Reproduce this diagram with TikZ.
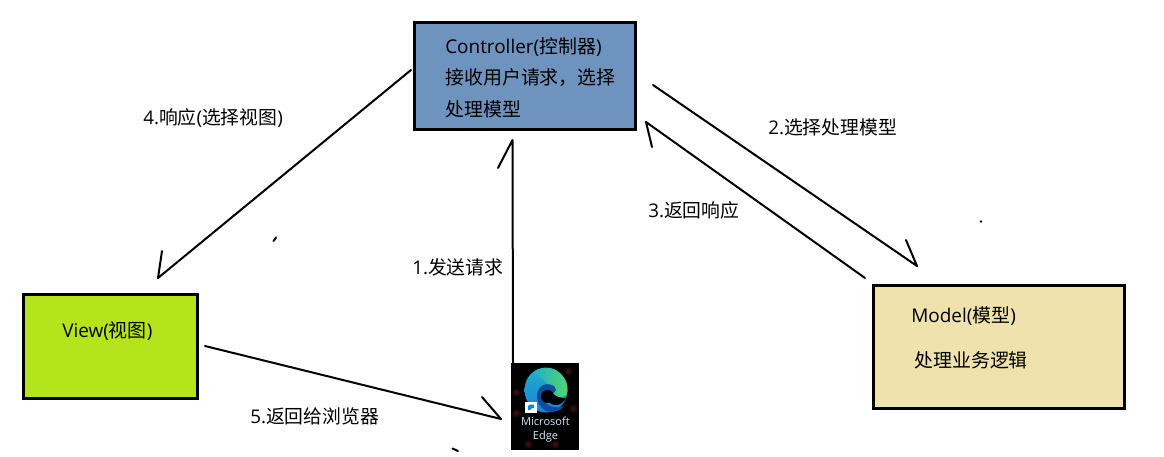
\documentclass[tikz,border=0pt]{standalone}
\usepackage{fontspec}
\setmainfont{Open Sans}
\newfontfamily\cjk{Noto Sans CJK SC}
\usetikzlibrary{positioning}
\definecolor{ctrlblue}{HTML}{6E93BE}
\definecolor{viewgreen}{HTML}{B4E51C}
\definecolor{modelyellow}{HTML}{EFE2AC}
\definecolor{edgeblue}{HTML}{1C7FD8}
\definecolor{edgegreen}{HTML}{52D66C}
\definecolor{edgeteal}{HTML}{22AFCB}
\definecolor{edgedark}{HTML}{0F4C9C}
\definecolor{edgetext}{HTML}{CFE8F8}
\definecolor{glowred}{HTML}{4A120C}
\tikzset{
        % Boxes
        box_node/.style={rectangle, draw=black, line width=2.2pt, inner sep=0pt, anchor=north west},
        % Text inside the boxes
        box_text/.style={anchor=west, inner sep=0pt, font=\fontsize{14.2}{18}\selectfont},
        % Labels beside the lines
        line_text/.style={anchor=west, inner sep=0pt, font=\fontsize{14.1}{17}\selectfont},
        % Lines, each with a single barb
        hand_line/.style={draw=black, line width=1.5pt, line join=round, line cap=round},
        % Spots behind the browser icon
        icon_glow/.style={inner color=glowred, outer color=black}
}

\begin{document}
\begin{tikzpicture}[x=0.75pt, y=-0.75pt]
    \useasboundingbox (0,0) rectangle (1164,457);

    \node[box_node, fill=ctrlblue, minimum width=165.3pt, minimum height=80.3pt] (controller) at (413.3,21) {};
    \node[box_node, fill=viewgreen, minimum width=131pt, minimum height=77.8pt] (view) at (21.7,293.3) {};
    \node[box_node, fill=modelyellow, minimum width=187.8pt, minimum height=92.3pt] (model) at (872.3,284) {};
    \node[rectangle, fill=black, inner sep=0pt, anchor=north west, minimum width=50.5pt, minimum height=65pt] (browser) at (511,363) {};

    % Browser icon
    \shade[icon_glow] (516,392) circle (5);
    \shade[icon_glow] (516,413) circle (5);
    \shade[icon_glow] (573,408) circle (5);
    \shade[icon_glow] (528,444) circle (5);
    \shade[icon_glow] (555,444) circle (5);
    \shade[icon_glow] (568,371) circle (5);
    \shade[top color=edgeteal, bottom color=edgeblue] (546,390) circle (21.5 and 22.5);
    \shade[left color=edgeteal, right color=edgegreen] (533,372.5) .. controls (541,366.5) and (552,366.5) .. (559,372.5) .. controls (566,378) and (568,385) .. (567.5,391) .. controls (567,396) and (563,398) .. (558,397) .. controls (554,396) and (554,392) .. (551,388) .. controls (546,381) and (538,376) .. (533,372.5) -- cycle;
    \fill[edgedark] (554,386) .. controls (545,381) and (537,387) .. (537,396) .. controls (537,405) and (543,411) .. (551,412) .. controls (556,412) and (561,410) .. (564,406) .. controls (557,409) and (549,407) .. (546,403) -- (556,390) -- cycle;
    \fill[black] (547.5,396.5) circle (6.5);
    \fill[black] (550,391) .. controls (555,397) and (560,398) .. (566,398) .. controls (564,402) and (560,405) .. (556,405) .. controls (553,405) and (551,404) .. (550,403) -- cycle;
    \fill[white] (525,402) rectangle (537,412.5);
    \fill[edgeblue] (528,410) -- (528,406) -- (530,404.5) -- (534,404.5) -- (534,408) -- (532,408) -- (530,410) -- cycle;
    \node[inner sep=0pt, align=center, text=edgetext, font=\fontsize{8.3}{10.6}\selectfont] (browser_text) at (545.5,429.5) {Microsoft\\Edge};

    % Text in the boxes
    \node[box_text] (controller_title) at (445,47) {Controller({\cjk 控制器})};
    \node[box_text] (controller_line) at (445,78) {\cjk 接收用户请求，选择};
    \node[box_text] (controller_last) at (445,109) {\cjk 处理模型};
    \node[box_text] (view_title) at (62,331) {View({\cjk 视图})};
    \node[box_text] (model_title) at (911,316) {Model({\cjk 模型})};
    \node[box_text] (model_line) at (914,360) {\cjk 处理业务逻辑};

    % Line ends
    \coordinate (req_start) at (513,363);
    \coordinate (req_tip) at (512.5,140);
    \coordinate (req_barb) at (498,168);
    \coordinate (sel_start) at (653,85);
    \coordinate (sel_tip) at (917,266);
    \coordinate (sel_barb) at (906,240);
    \coordinate (ret_start) at (865,278);
    \coordinate (ret_tip) at (646,122);
    \coordinate (ret_barb) at (652,147);
    \coordinate (res_start) at (411,70);
    \coordinate (res_tip) at (158,278);
    \coordinate (res_barb) at (162,251);
    \coordinate (back_start) at (205,346);
    \coordinate (back_tip) at (501,419);
    \coordinate (back_barb) at (482,397);

    \draw[hand_line] (req_start) -- (req_tip) -- (req_barb);
    \draw[hand_line] (sel_start) -- (sel_tip) -- (sel_barb);
    \draw[hand_line] (ret_start) -- (ret_tip) -- (ret_barb);
    \draw[hand_line] (res_start) -- (res_tip) -- (res_barb);
    \draw[hand_line] (back_start) -- (back_tip) -- (back_barb);

    % Stray marks
    \draw[hand_line] (273.5,241) -- (276,237.5);
    \draw[hand_line] (452.5,448.5) -- (458,451);
    \fill[black] (981,221.5) circle (1.3);

    % Labels of the lines
    \node[line_text] (req_label) at (412,267) {1.{\cjk 发送请求}};
    \node[line_text] (sel_label) at (768,127) {2.{\cjk 选择处理模型}};
    \node[line_text] (ret_label) at (648,210) {3.{\cjk 返回响应}};
    \node[line_text] (res_label) at (143,118) {4.{\cjk 响应}({\cjk 选择视图})};
    \node[line_text] (back_label) at (250,416) {5.{\cjk 返回给浏览器}};
\end{tikzpicture}
\end{document}
